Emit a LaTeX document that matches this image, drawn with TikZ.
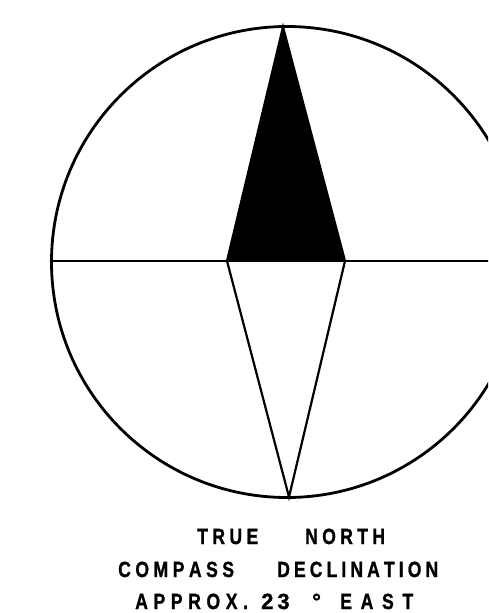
\documentclass[tikz,border=0pt]{standalone}
\usepackage{fontspec}
\setmainfont{Liberation Sans}[BoldFeatures={FakeBold=1.2}]
\usepackage{graphicx}
\newdimen\lspdim
\def\lspA#1#2{#1\ifx#2\relax\else\kern\lspdim\expandafter\lspA\expandafter#2\fi}
\newcommand\spaced[2]{\lspdim=#1\relax\lspA#2\relax}
\newcommand\narrow[2]{\scalebox{0.8}[1]{\spaced{#1}{#2}}}
\tikzset{
  ink/.style={line width=2.8pt, line join=round},
  needle/.style={line width=2.2pt, line join=miter},
  lbl/.style={inner sep=0pt, anchor=base west, font=\fontsize{22}{22}\selectfont\bfseries}
}
\begin{document}
\begin{tikzpicture}[x=1pt,y=-1pt]
\useasboundingbox (0,0) rectangle (488,613);
\begin{scope}
\clip (0,0) rectangle (488,613);
\coordinate (C) at (287,262);
\coordinate (W) at (52,261);
\coordinate (E) at (500,261);
\coordinate (N) at (283,27);
\coordinate (BL) at (227,261);
\coordinate (BR) at (345,261);
\coordinate (S) at (289,497);
\fill[black] (N) -- (BL) -- (BR) -- cycle;
\draw[needle] (BL) -- (S) -- (BR);
\draw[needle] (BL) -- (N) -- (BR);
\draw[ink] (W) -- (E);
\draw[ink] (C) circle (235.5);
\end{scope}
\node[lbl] (t1) at (197,544) {\narrow{5.5pt}{TRUE}};
\node[lbl] (t2) at (305,544) {\narrow{5.4pt}{NORTH}};
\node[lbl] (t3) at (118,577) {\narrow{5.6pt}{COMPASS}};
\node[lbl] (t4) at (277,577) {\narrow{5.1pt}{DECLINATION}};
\node[lbl] (t5) at (135,609) {\narrow{7pt}{APPROX.}};
\node[lbl] (t6) at (261,609) {\spaced{4pt}{23}};
\node[lbl] (t7) at (312,609) {°};
\node[lbl] (t8) at (340,609) {\narrow{10.9pt}{EAST}};
\end{tikzpicture}
\end{document}
